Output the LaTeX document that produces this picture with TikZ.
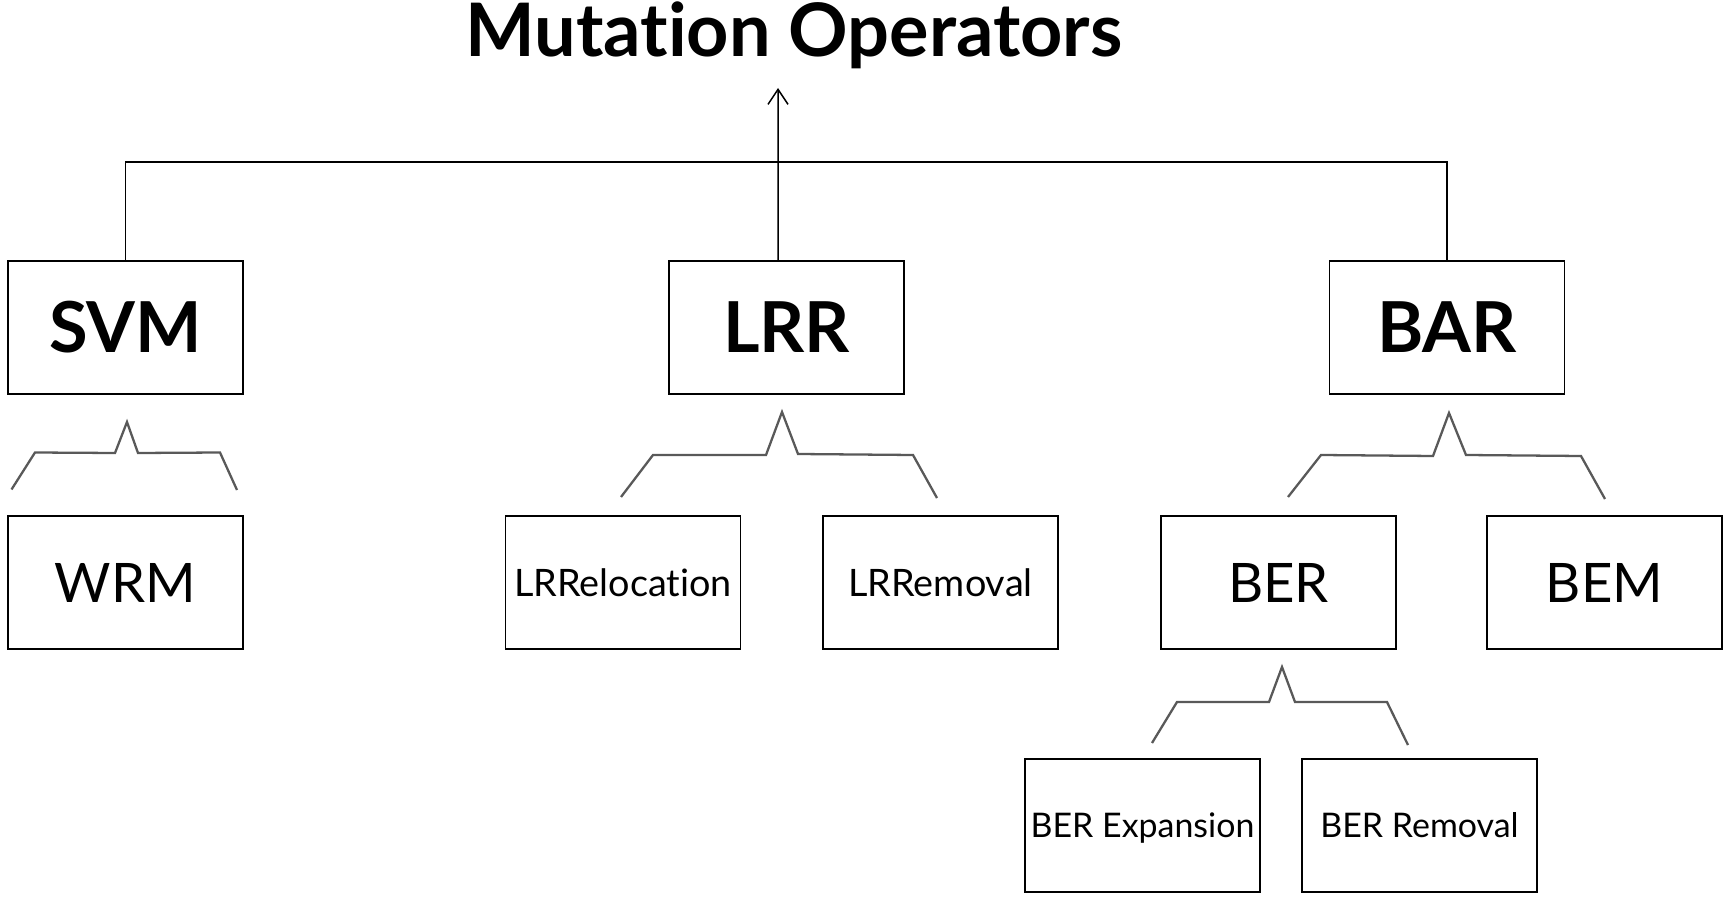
\documentclass[tikz,border=0pt]{standalone}
\usepackage{fontspec}
\setmainfont[Ligatures={NoCommon}]{Lato}
\usepackage{tikz}
\usetikzlibrary{arrows.meta,positioning,calc}

\begin{document}
\begin{tikzpicture}[
  every node/.style={font=\normalsize},
  op/.style={rectangle, draw, line width=1.1pt, minimum width=4.7cm, minimum height=2.66cm, align=center, text height=28.8pt, text depth=0pt, font=\fontsize{40}{46}\selectfont\bfseries},
  subop/.style={op, text height=22.3pt, font=\fontsize{31}{36}\selectfont},
  leafop/.style={op, text height=15.5pt, font=\fontsize{21.5}{26}\selectfont},
  leafsm/.style={op, text height=13.9pt, font=\fontsize{19.3}{23}\selectfont},
  conn/.style={line width=0.85pt},
  brace/.style={line width=1.3pt, black!65, line join=miter},
  >=Stealth
]
\useasboundingbox (0,0) rectangle (34.6,18.06);

% Title
\node[font=\fontsize{42}{48}\selectfont\bfseries, anchor=base] (title) at (15.88,16.92) {Mutation Operators};

% Top level operators
\node[op] (svm) at (2.51,11.51) {SVM};
\node[op] (lrr) at (15.73,11.51) {LRR};
\node[op] (bar) at (28.94,11.51) {BAR};

% Second level
\node[subop] (wrm) at (2.51,6.41) {WRM};
\node[leafop] (lrrel) at (12.46,6.41) {LRRelocation};
\node[leafop] (lrrem) at (18.81,6.41) {LRRemoval};
\node[subop] (ber) at (25.57,6.41) {BER};
\node[subop] (bem) at (32.09,6.41) {BEM};

% Third level
\node[leafsm] (berexp) at (22.85,1.55) {BER Expansion};
\node[leafsm] (berrem) at (28.39,1.55) {BER Removal};

% Connections to the title
\coordinate (hub) at (15.56,14.82);
\coordinate (tip) at (15.56,16.3);
\draw[conn] (svm.north) |- (hub) -| (bar.north);
\draw[conn, -{Straight Barb[length=3mm, width=4mm]}] ([xshift=-1.7mm]lrr.north) -- (tip);

% Braces
\draw[brace] (0.23,8.27) -- (0.70,9.01) -- (2.30,9.00) -- (2.54,9.62) -- (2.76,9.00) -- (4.40,9.01) -- (4.74,8.26);
\draw[brace] (12.42,8.12) -- (13.06,8.96) -- (15.32,8.96) -- (15.64,9.82) -- (15.96,8.98) -- (18.26,8.96) -- (18.74,8.10);
\draw[brace] (25.76,8.12) -- (26.42,8.96) -- (28.66,8.94) -- (28.98,9.80) -- (29.32,8.96) -- (31.62,8.94) -- (32.10,8.08);
\draw[brace] (23.04,3.20) -- (23.54,4.02) -- (25.38,4.02) -- (25.64,4.72) -- (25.90,4.02) -- (27.74,4.02) -- (28.16,3.16);

\end{tikzpicture}
\end{document}
